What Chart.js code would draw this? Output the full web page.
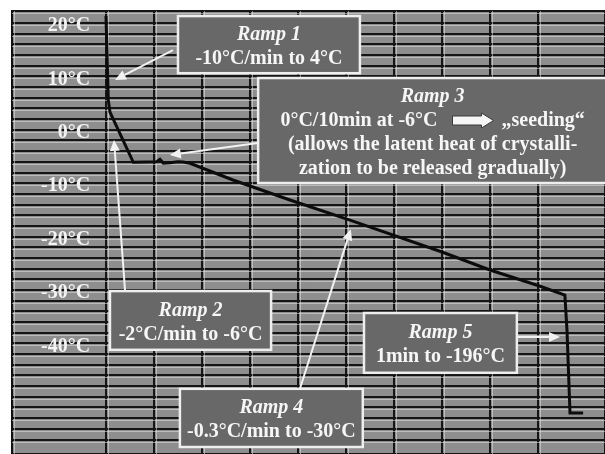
<!DOCTYPE html>
<html>
<head>
<meta charset="utf-8">
<title>Freezing protocol</title>
<script src="https://cdn.jsdelivr.net/npm/chart.js@4"></script>
<style>
  body{margin:0;background:#fff;}
  #chart{display:block;}
</style>
</head>
<body>
<canvas id="chart" width="605" height="454"></canvas>
<script>
// recorder trace: time in minutes, temperature in °C
const times = [0, 0.48, 0.83, 5.69, 10.56, 11.25, 11.94, 13.33, 15, 16.04, 17.5, 26.46, 38.33, 50.83, 70, 80, 90, 95.6, 96.04, 96.67, 99.4];
const temps = [21.3, 5.6, 3.3, -6.09, -5.97, -5.52, -6.27, -6.16, -5.97, -6.03, -6.27, -9.4, -13.15, -16.9, -22.88, -26.25, -29.16, -30.94, -37.5, -53.03, -53.03];

// labelled temperatures on the paper
const yLabels = [20, 10, 0, -10, -20, -30, -40];

// annotation texts
const boxTitles = ["Ramp 1", "Ramp 2", "Ramp 3", "Ramp 4", "Ramp 5"];
const boxLines = [
  ["-10°C/min to 4°C"],
  ["-2°C/min to -6°C"],
  [["0°C/10min at -6°C", "„seeding“"], "(allows the latent heat of crystalli-", "zation to be released gradually)"],
  ["-0.3°C/min to -30°C"],
  ["1min to -196°C"]
];

// where the boxes and arrows sit, in chart units (minutes, °C)
const boxPos = [
  {x0: 15, x1: 52.9, y0: 21.3, y1: 10.6},
  {x0: 0.83, x1: 34.4, y0: -30.2, y1: -41.2},
  {x0: 31.7, x1: 104.4, y0: 9.7, y1: -9.96},
  {x0: 15.4, x1: 53.5, y0: -48.5, y1: -59.4},
  {x0: 53.75, x1: 85.6, y0: -34.3, y1: -45.5}
];
const arrowPos = [
  {x0: 13.96, y0: 14.94, x1: 1.875, y1: 9.33},
  {x0: 3.96, y0: -30.0, x1: 1.67, y1: -1.9},
  {x0: 31.67, y0: -2.47, x1: 13.3, y1: -4.72},
  {x0: 40.4, y0: -48.5, x1: 51.0, y1: -18.6},
  {x0: 85.6, y0: -38.8, x1: 94.6, y1: -38.8}
];

const serif = '"Liberation Serif", "Times New Roman", serif';

const paper = {
  id: 'paper',
  beforeDraw(c){
    const a = c.chartArea, ctx = c.ctx;
    ctx.save();
    ctx.fillStyle = '#8e8e8e';
    ctx.fillRect(a.left, a.top, a.right - a.left, a.bottom - a.top);
    ctx.restore();
  },
  beforeDatasetsDraw(c){
    const a = c.chartArea, ctx = c.ctx;
    const x = c.scales.x, y = c.scales.y;
    ctx.save();
    ctx.strokeStyle = 'rgba(225,225,225,0.55)';
    ctx.lineWidth = 1;
    ctx.beginPath();
    y.ticks.forEach(t => {
      const py = Math.round(y.getPixelForValue(t.value)) + 2.5;
      ctx.moveTo(a.left, py); ctx.lineTo(a.right, py);
    });
    x.ticks.forEach(t => {
      const px = Math.round(x.getPixelForValue(t.value)) + 2.5;
      ctx.moveTo(px, a.top); ctx.lineTo(px, a.bottom);
    });
    ctx.stroke();
    ctx.restore();
  }
};

function drawArrow(ctx, x0, y0, x1, y1){
  const ang = Math.atan2(y1 - y0, x1 - x0);
  const len = 11, half = 5;
  ctx.beginPath();
  ctx.moveTo(x0, y0);
  ctx.lineTo(x1 - Math.cos(ang) * len, y1 - Math.sin(ang) * len);
  ctx.stroke();
  ctx.beginPath();
  ctx.moveTo(x1, y1);
  ctx.lineTo(x1 - Math.cos(ang) * len - Math.sin(ang) * half, y1 - Math.sin(ang) * len + Math.cos(ang) * half);
  ctx.lineTo(x1 - Math.cos(ang) * len + Math.sin(ang) * half, y1 - Math.sin(ang) * len - Math.cos(ang) * half);
  ctx.closePath();
  ctx.fill();
}

function blockArrow(ctx, x0, x1, cy){
  ctx.beginPath();
  ctx.moveTo(x0, cy - 4.5);
  ctx.lineTo(x1 - 12, cy - 4.5);
  ctx.lineTo(x1 - 12, cy - 7.5);
  ctx.lineTo(x1, cy);
  ctx.lineTo(x1 - 12, cy + 7.5);
  ctx.lineTo(x1 - 12, cy + 4.5);
  ctx.lineTo(x0, cy + 4.5);
  ctx.closePath();
  ctx.fillStyle = '#f6f6f6';
  ctx.fill();
  ctx.strokeStyle = '#3a3a3a';
  ctx.lineWidth = 1;
  ctx.stroke();
}

const notes = {
  id: 'notes',
  afterDatasetsDraw(c){
    const ctx = c.ctx, x = c.scales.x, y = c.scales.y;
    ctx.save();
    boxPos.forEach((b, i) => {
      const l = x.getPixelForValue(b.x0), r = x.getPixelForValue(b.x1);
      const t = y.getPixelForValue(b.y0), bt = y.getPixelForValue(b.y1);
      ctx.fillStyle = '#686868';
      ctx.fillRect(l, t, r - l, bt - t);
      ctx.strokeStyle = '#eeeeee';
      ctx.lineWidth = 2.5;
      ctx.strokeRect(l, t, r - l, bt - t);

      const rows = [boxTitles[i]].concat(boxLines[i]);
      const cx = (l + r) / 2, cy = (t + bt) / 2;
      ctx.textAlign = 'center';
      ctx.textBaseline = 'middle';
      rows.forEach((row, k) => {
        const ly = cy + 24 * (k - (rows.length - 1) / 2) + 2;
        ctx.fillStyle = '#f6f6f6';
        ctx.font = (k === 0 ? 'italic bold 20px ' : 'bold 20px ') + serif;
        if (Array.isArray(row)) {
          const gap = 64;
          const w1 = ctx.measureText(row[0]).width, w2 = ctx.measureText(row[1]).width;
          const sx = cx - (w1 + gap + w2) / 2;
          ctx.textAlign = 'left';
          ctx.fillText(row[0], sx, ly);
          ctx.fillText(row[1], sx + w1 + gap, ly);
          ctx.textAlign = 'center';
          blockArrow(ctx, sx + w1 + 15, sx + w1 + 56, ly);
        } else {
          ctx.fillText(row, cx, ly);
        }
      });
    });
    ctx.strokeStyle = '#f2f2f2';
    ctx.fillStyle = '#f2f2f2';
    ctx.lineWidth = 2;
    arrowPos.forEach(a => {
      drawArrow(ctx, x.getPixelForValue(a.x0), y.getPixelForValue(a.y0),
                x.getPixelForValue(a.x1), y.getPixelForValue(a.y1));
    });
    ctx.restore();
  }
};

const chart = new Chart(document.getElementById('chart'), {
  type: 'line',
  data: {
    datasets: [{
      label: 'Temperature',
      data: times.map((t, i) => ({x: t, y: temps[i]})),
      borderColor: '#0c0c0c',
      borderWidth: 3,
      pointRadius: 0,
      tension: 0,
      fill: false
    }]
  },
  options: {
    responsive: false,
    animation: false,
    layout: {padding: {left: 12, top: 11, right: 0, bottom: 0}},
    plugins: {legend: {display: false}, tooltip: {enabled: false}},
    scales: {
      x: {
        type: 'linear',
        min: -19.58,
        max: 103.96,
        ticks: {display: false, stepSize: 10, autoSkip: false},
        grid: {color: '#151515', lineWidth: 2, drawTicks: false},
        border: {display: false},
        afterFit(s){ s.height = 0; s.paddingLeft = 0; s.paddingRight = 0; }
      },
      y: {
        type: 'linear',
        position: 'left',
        min: -60.71,
        max: 22.25,
        ticks: {
          stepSize: 2,
          autoSkip: false,
          mirror: true,
          crossAlign: 'far',
          padding: 29,
          labelOffset: 3,
          color: '#f4f4f4',
          font: {family: serif, size: 20, weight: 'bold'},
          callback: v => yLabels.includes(v) ? v + '°C' : ''
        },
        grid: {color: '#151515', lineWidth: 2, drawTicks: false},
        border: {display: true, color: '#111', width: 2},
        afterFit(s){ s.width = 0; s.paddingTop = 0; s.paddingBottom = 0; }
      }
    }
  },
  plugins: [paper, notes]
});
</script>
</body>
</html>
